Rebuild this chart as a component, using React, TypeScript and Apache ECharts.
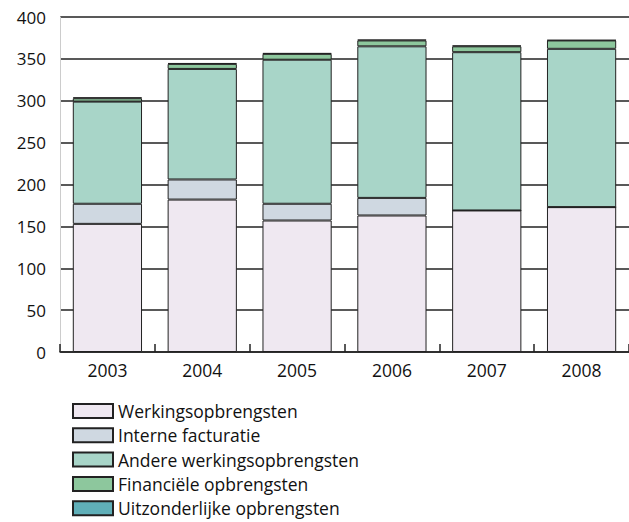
import React, { useEffect, useRef } from "react";
import * as echarts from "echarts";

const years = ["2003", "2004", "2005", "2006", "2007", "2008"];
const werkingsopbrengsten = [153, 182, 157, 163, 169, 173];
const interneFacturatie = [24, 24, 20, 21, 0, 0];
const andereWerkingsopbrengsten = [122, 132, 172, 181, 189, 189];
const financieleOpbrengsten = [4, 6, 7, 7, 7, 10];
const uitzonderlijkeOpbrengsten = [1, 1, 1, 1, 1, 0.5];

const seriesNames = [
  "Werkingsopbrengsten",
  "Interne facturatie",
  "Andere werkingsopbrengsten",
  "Financiële opbrengsten",
  "Uitzonderlijke opbrengsten",
];
const seriesData = [
  werkingsopbrengsten,
  interneFacturatie,
  andereWerkingsopbrengsten,
  financieleOpbrengsten,
  uitzonderlijkeOpbrengsten,
];
const colors = ["#efe8f1", "#cfd8e1", "#a8d5c8", "#8dc79d", "#60afb8"];

const FONT = "'Open Sans', 'Noto Sans', sans-serif";

export default function App() {
  const ref = useRef<HTMLDivElement>(null);
  useEffect(() => {
    if (!ref.current) return;
    const chart = echarts.init(ref.current, null, { renderer: "svg" });
    chart.setOption({
      animation: false,
      backgroundColor: "#ffffff",
      grid: { left: 60, right: 0, top: 17, bottom: 170, containLabel: false },
      legend: seriesNames.map((name, i) => ({
        orient: "vertical",
        left: 72,
        top: 402 + 24.3 * i,
        padding: 0,
        itemWidth: 40,
        itemHeight: 14,
        itemGap: 0,
        icon: "rect",
        data: [name],
        textStyle: {
          fontFamily: FONT,
          fontSize: 17.5,
          lineHeight: 14,
          color: "#111",
        },
      })),
      xAxis: {
        type: "category",
        data: years,
        axisLine: { lineStyle: { color: "#222", width: 1.5 } },
        axisTick: { show: true, inside: true, length: 8, lineStyle: { color: "#222", width: 1.5 } },
        axisLabel: { fontFamily: FONT, fontSize: 17.5, color: "#111", margin: 9 },
      },
      yAxis: {
        type: "value",
        min: 0,
        max: 400,
        interval: 50,
        axisLine: { show: true, lineStyle: { color: "#cccccc", width: 1 } },
        axisTick: { show: false },
        axisLabel: { fontFamily: FONT, fontSize: 17, color: "#111", margin: 14 },
        splitLine: { show: true, lineStyle: { color: "#222", width: 1.5 } },
      },
      series: seriesNames.map((name, i) => ({
        name,
        type: "bar",
        stack: "total",
        barWidth: "73%",
        data: seriesData[i],
        itemStyle: { color: colors[i], borderColor: "#222", borderWidth: 1 },
      })),
    });
    return () => chart.dispose();
  }, []);
  return <div ref={ref} style={{ width: 629, height: 522, position: "absolute", left: 0, top: 0 }} />;
}
